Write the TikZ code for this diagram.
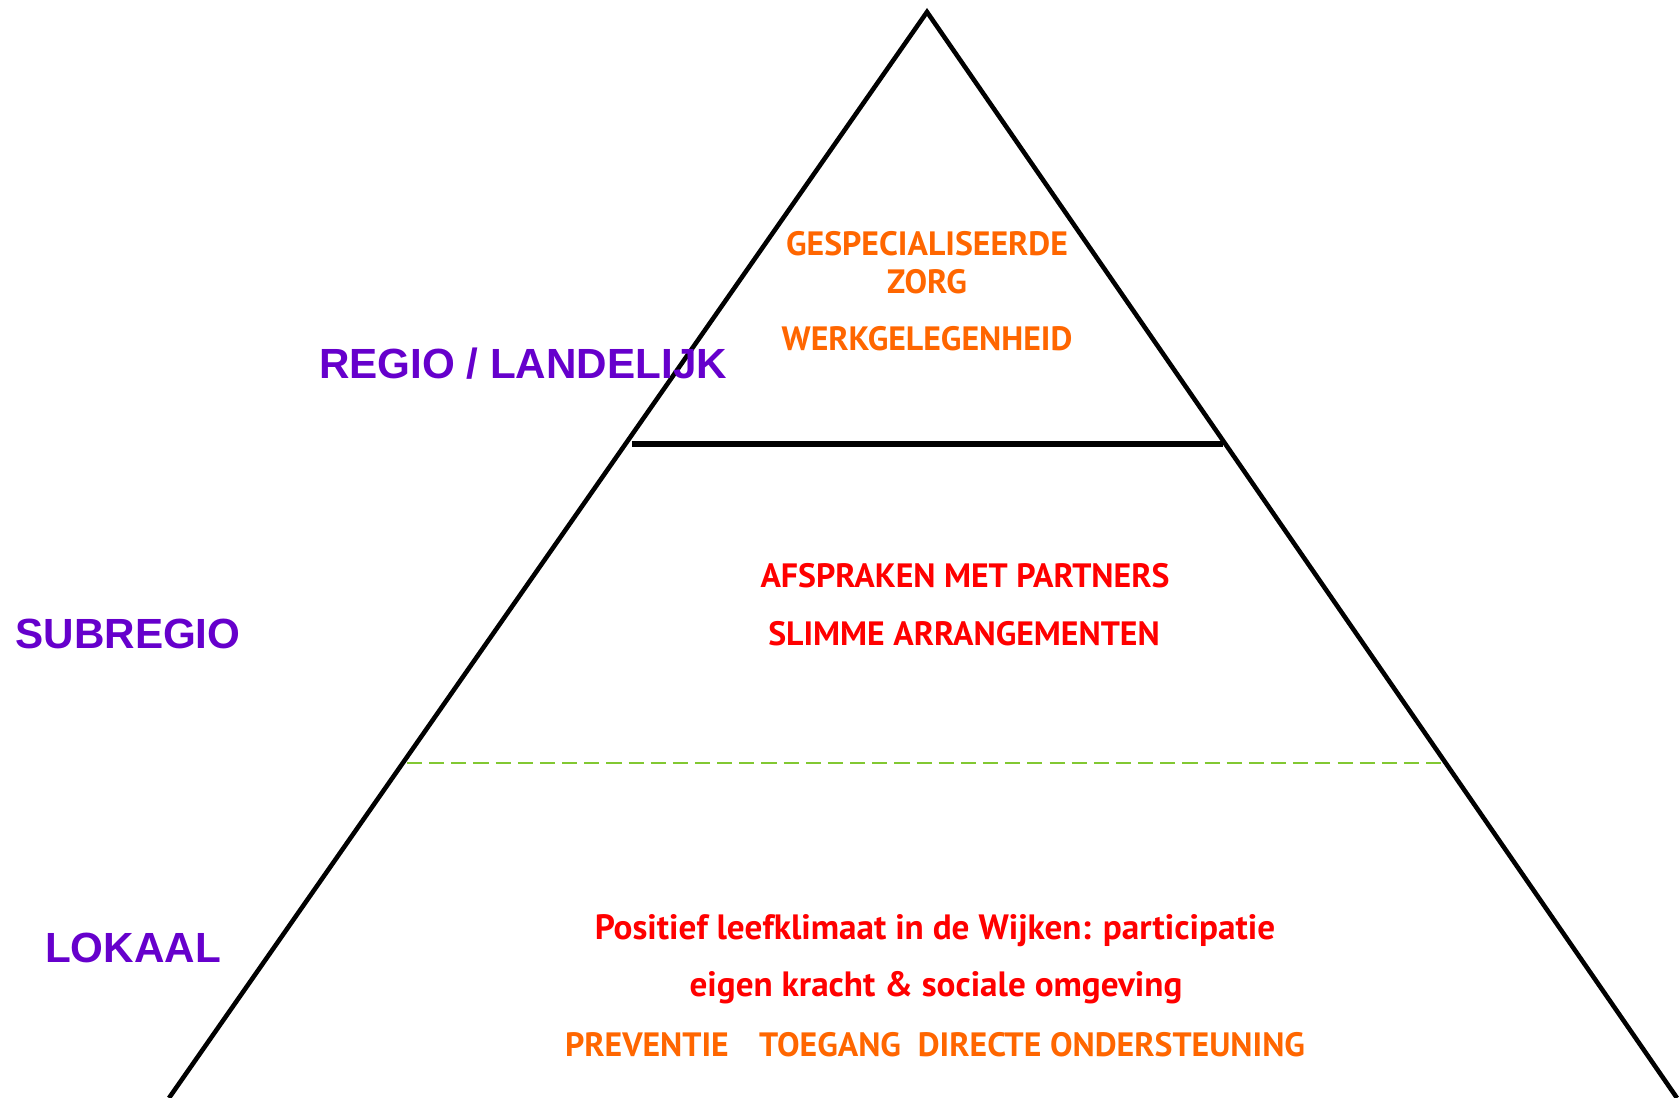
\documentclass[tikz,border=0pt]{standalone}
\usepackage{fontspec}
\setmainfont{PT Sans}
\newfontfamily\levelfont{Liberation Sans}
\definecolor{levelpurple}{RGB}{102,0,204}
\definecolor{taskorange}{RGB}{255,102,0}
\definecolor{taskred}{RGB}{255,0,0}
\definecolor{splitgreen}{RGB}{130,200,50}
\begin{document}
\begin{tikzpicture}[x=0.01cm,y=-0.01cm,
    level/.style={font=\levelfont\bfseries\fontsize{12}{14}\selectfont, text=levelpurple, inner sep=0pt},
    task/.style={font=\bfseries\fontsize{9.6}{11}\selectfont, inner sep=0pt},
    smalltask/.style={font=\bfseries\fontsize{10}{12}\selectfont, inner sep=0pt},
    edge/.style={line width=1.3pt, black}]
\useasboundingbox (0,0) rectangle (1679,1098);
% pyramid
\coordinate (top) at (927,12);
\coordinate (baseL) at (169,1098);
\coordinate (baseR) at (1677,1098);
\draw[edge] (baseL) -- (top) -- (baseR);
\coordinate (cutL) at (632,444);
\coordinate (cutR) at (1223,444);
\draw[line width=1.6pt] (cutL) -- (cutR);
\coordinate (dashL) at (407,763);
\coordinate (dashR) at (1448,763);
\draw[splitgreen, line width=0.75pt, dash pattern=on 4.3pt off 2pt] (dashL) -- (dashR);
% levels
\node[level] (regio) at (523,364) {REGIO / LANDELIJK};
\node[level] (subregio) at (128,634) {SUBREGIO};
\node[level] (lokaal) at (133,948) {LOKAAL};
% top tier
\node[task, text=taskorange] (spec) at (927,244) {GESPECIALISEERDE};
\node[task, text=taskorange] (zorg) at (927,282) {ZORG};
\node[task, text=taskorange] (werk) at (927,339) {WERKGELEGENHEID};
% middle tier
\node[task, text=taskred] (afspr) at (965,576) {AFSPRAKEN MET PARTNERS};
\node[task, text=taskred] (slim) at (964,634) {SLIMME ARRANGEMENTEN};
% bottom tier
\node[smalltask, text=taskred] (wijk) at (935,931) {Positief leefklimaat in de Wijken: participatie};
\node[smalltask, text=taskred] (kracht) at (936,988) {eigen kracht \& sociale omgeving};
\node[task, text=taskorange] (prev) at (935,1045) {PREVENTIE\hspace{0.9em}TOEGANG\hspace{0.5em}DIRECTE ONDERSTEUNING};
\end{tikzpicture}
\end{document}
